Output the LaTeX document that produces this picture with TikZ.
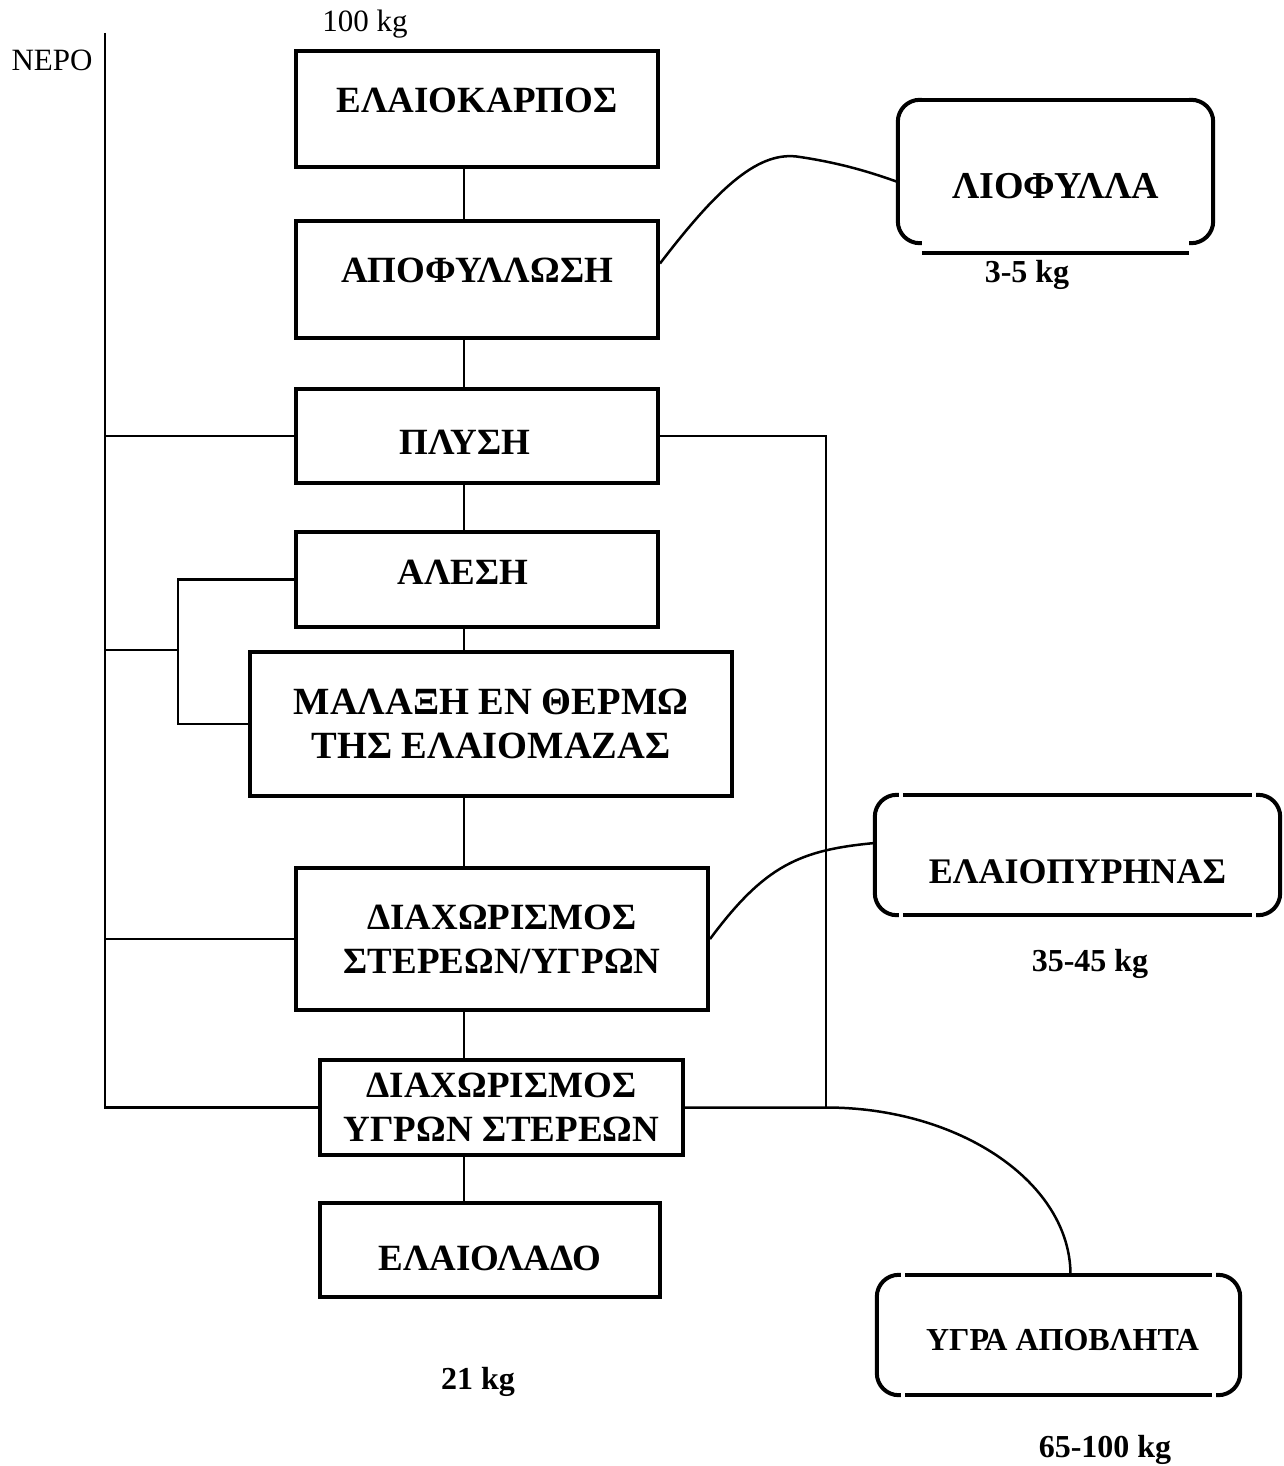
\documentclass[tikz,border=0pt]{standalone}
\usepackage{fontspec}
\setmainfont{Liberation Serif}
\usetikzlibrary{positioning,calc}
\newcommand{\nudge}[3]{\raisebox{#2}[\height][\depth]{\hspace*{#1}#3\hspace*{-#1}}}
\newcommand{\capsule}[1]{%
  \draw[capline] ([xshift=24pt]#1.north west) -- (#1.north west) -- (#1.south west) -- ([xshift=24pt]#1.south west);
  \draw[capline] ([xshift=-24pt]#1.north east) -- (#1.north east) -- (#1.south east) -- ([xshift=-24pt]#1.south east);}

\begin{document}
\begin{tikzpicture}[x=1pt, y=-1pt,
  stage/.style={draw, line width=4pt, inner sep=0pt, align=center,
    font=\bfseries\fontsize{37}{44}\selectfont},
  product/.style={inner sep=0pt, font=\bfseries\fontsize{#1}{#1}\selectfont},
  capline/.style={line width=4pt, rounded corners=22pt},
  link/.style={line width=2.5pt},
  mass/.style={font=\bfseries\fontsize{32}{36}\selectfont},
  given/.style={font=\fontsize{31}{36}\selectfont}]
  \useasboundingbox (0,0) rectangle (1283,1466);

  % main line
  \node[stage, minimum width=362pt, minimum height=116pt] (kar) at (477,109) {\nudge{0pt}{9pt}{ΕΛΑΙΟΚΑΡΠΟΣ}};
  \node[stage, minimum width=362pt, minimum height=117pt] (apo) at (477,279.5) {\nudge{0pt}{9pt}{ΑΠΟΦΥΛΛΩΣΗ}};
  \node[stage, minimum width=362pt, minimum height=94pt] (ply) at (477,436) {\nudge{-12pt}{-6pt}{ΠΛΥΣΗ}};
  \node[stage, minimum width=362pt, minimum height=95pt] (ale) at (477,579.5) {\nudge{-14pt}{7pt}{ΑΛΕΣΗ}};
  \node[stage, minimum width=482pt, minimum height=144pt, font=\bfseries\fontsize{38.5}{44}\selectfont] (mal) at (491,724) {ΜΑΛΑΞΗ ΕΝ ΘΕΡΜΩ\\ ΤΗΣ ΕΛΑΙΟΜΑΖΑΣ};
  \node[stage, minimum width=412pt, minimum height=142pt] (dia1) at (502,939) {ΔΙΑΧΩΡΙΣΜΟΣ\\ ΣΤΕΡΕΩΝ/ΥΓΡΩΝ};
  \node[stage, minimum width=363pt, minimum height=95pt] (dia2) at (501.5,1107.5) {ΔΙΑΧΩΡΙΣΜΟΣ\\ ΥΓΡΩΝ ΣΤΕΡΕΩΝ};
  \node[stage, minimum width=340pt, minimum height=94pt] (lad) at (490,1250) {\nudge{0pt}{-8pt}{ΕΛΑΙΟΛΑΔΟ}};

  % by-products
  \node[product=38, minimum width=315pt, minimum height=143pt] (lio) at (1055.5,171.5) {\nudge{0pt}{-15pt}{ΛΙΟΦΥΛΛΑ}};
  \node[product=36, minimum width=405pt, minimum height=120pt] (pyr) at (1077.5,855) {\nudge{0pt}{-17pt}{ΕΛΑΙΟΠΥΡΗΝΑΣ}};
  \node[product=32, minimum width=363pt, minimum height=120pt] (ygr) at (1058.5,1335) {\nudge{4pt}{-5pt}{ΥΓΡΑ ΑΠΟΒΛΗΤΑ}};
  \capsule{lio}
  \capsule{pyr}
  \capsule{ygr}
  \draw[capline] ([xshift=24pt]lio.north west) -- ([xshift=-24pt]lio.north east);
  \draw[capline] ([xshift=24pt,yshift=-10pt]lio.south west) -- ([xshift=-24pt,yshift=-10pt]lio.south east);
  \foreach \b in {pyr, ygr} {
    \draw[capline] ([xshift=28pt]\b.north west) -- ([xshift=-28pt]\b.north east);
    \draw[capline] ([xshift=28pt]\b.south west) -- ([xshift=-28pt]\b.south east);
  }

  \coordinate (axis) at (464,0);
  \coordinate (water) at (105,33);
  \coordinate (split) at (178,0);
  \coordinate (drain) at (826,0);

  \foreach \a/\b in {kar/apo, apo/ply, ply/ale, ale/mal, mal/dia1, dia1/dia2, dia2/lad}
    \draw[link] (\a.south -| axis) -- (\b.north -| axis);

  % water feed
  \draw[link] (water) -- (water |- dia2.west) -- (dia2.west);
  \draw[link] (water |- ply.west) -- (ply.west);
  \draw[link] (water |- dia1.west) -- (dia1.west);
  \draw[link] (water |- mal.north) -- (split |- mal.north);
  \draw[link] (ale.west) -- (split |- ale.west) -- (split |- mal.west) -- (mal.west);

  % waste water
  \draw[link] (ply.east) -- (drain |- ply.east) -- (drain |- dia2.east);
  \draw[link] (dia2.east) -- (drain |- dia2.east)
    .. controls ($(drain |- dia2.east)+(134,0)$) and ($([xshift=12pt]ygr.north)+(0,-92)$) .. ([xshift=12pt]ygr.north);

  \draw[link] ([yshift=16pt]apo.east) .. controls (720,185) and (760,150) .. (800,157)
    .. controls (840,163) and (870,172) .. ([yshift=-10.5pt]lio.west);
  \draw[link] (dia1.east) .. controls (765,865) and (800,850) .. ([yshift=12pt]pyr.west);

  \node[given] (input) at (365,24) {100 kg};
  \node[given] (nero) at (52,60) {ΝΕΡΟ};
  \node[mass] (m-lio) at (1027,275) {3-5 kg};
  \node[mass] (m-pyr) at (1090,964) {35-45 kg};
  \node[mass] (m-lad) at (478,1382) {21 kg};
  \node[mass] (m-ygr) at (1105,1450) {65-100 kg};
\end{tikzpicture}
\end{document}
